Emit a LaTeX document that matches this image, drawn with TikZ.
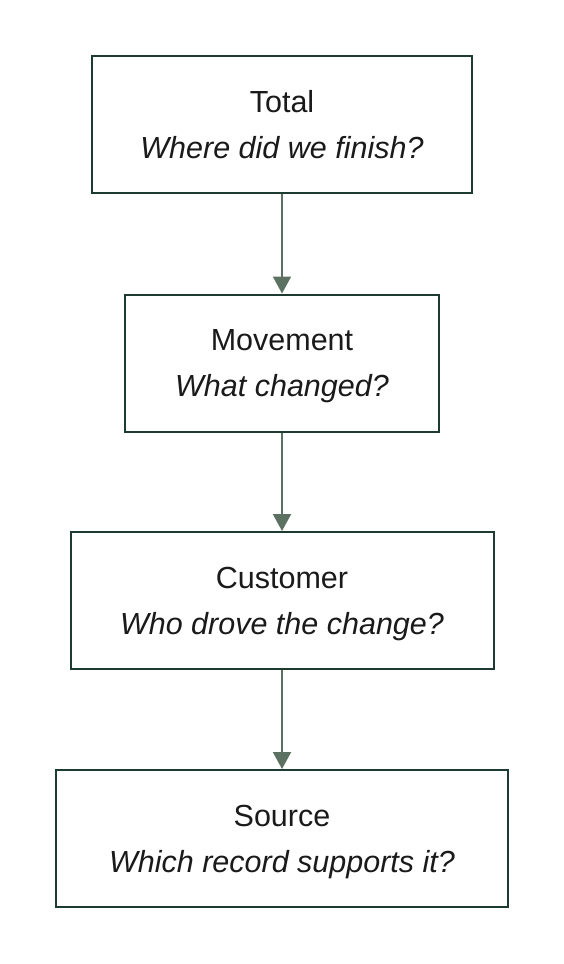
\documentclass[tikz,border=0pt]{standalone}
\usepackage{fontspec}
\setmainfont{Liberation Sans}
\usetikzlibrary{arrows.meta}
\definecolor{boxline}{HTML}{1D3B2F}
\definecolor{arrowcol}{HTML}{5C7162}
\definecolor{txt}{HTML}{1A1A1A}
\begin{document}
\begin{tikzpicture}[x=1pt,y=-1pt,
  stagebox/.style={draw=boxline, line width=2pt, fill=white, minimum height=137pt, inner sep=0pt},
  titletext/.style={anchor=base, text=txt, font=\fontsize{30.5}{34}\selectfont, inner sep=0pt},
  subtext/.style={anchor=base, text=txt, font=\fontsize{30.5}{34}\selectfont\itshape, inner sep=0pt},
  flow/.style={draw=arrowcol, line width=2pt, -{Triangle[length=17pt,width=18pt]}}]
\useasboundingbox (0,0) rectangle (564,964);
\fill[white] (0,0) rectangle (564,964);
\node[stagebox, minimum width=380pt] (b1) at (282,124.5) {};
\node[stagebox, minimum width=314pt] (b2) at (282,363) {};
\node[stagebox, minimum width=423pt] (b3) at (282,600.5) {};
\node[stagebox, minimum width=452pt] (b4) at (282,838.5) {};
\node[titletext] (t1) at ([yshift=12.5pt]b1.center) {Total};
\node[subtext] (s1) at ([yshift=-33.5pt]b1.center) {Where did we finish?};
\node[titletext] (t2) at ([yshift=12.5pt]b2.center) {Movement};
\node[subtext] (s2) at ([yshift=-33.5pt]b2.center) {What changed?};
\node[titletext] (t3) at ([yshift=12.5pt]b3.center) {Customer};
\node[subtext] (s3) at ([yshift=-33.5pt]b3.center) {Who drove the change?};
\node[titletext] (t4) at ([yshift=12.5pt]b4.center) {Source};
\node[subtext] (s4) at ([yshift=-33.5pt]b4.center) {Which record supports it?};
\draw[flow] (b1.south) -- (b2.north);
\draw[flow] (b2.south) -- (b3.north);
\draw[flow] (b3.south) -- (b4.north);
\end{tikzpicture}
\end{document}
